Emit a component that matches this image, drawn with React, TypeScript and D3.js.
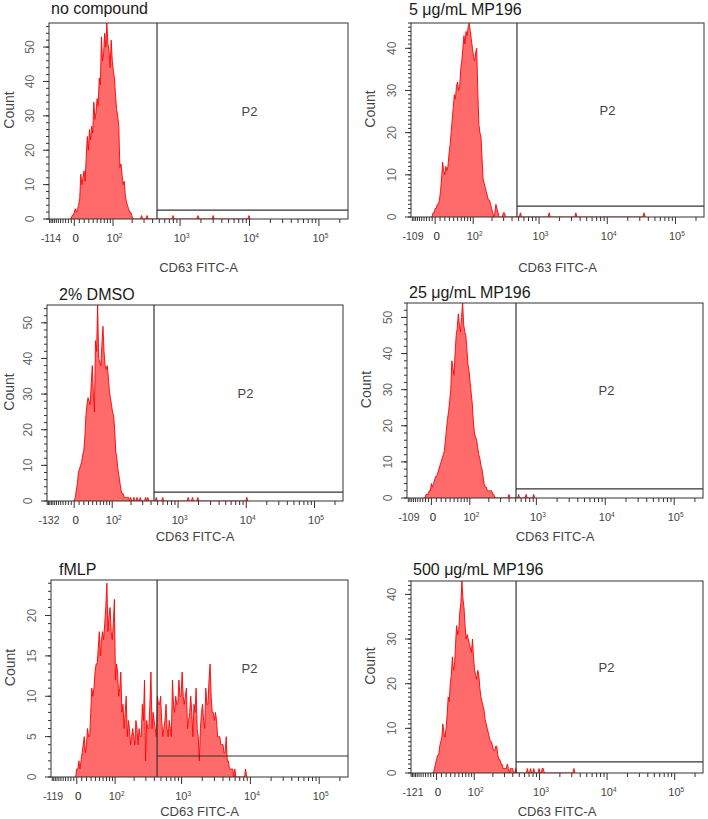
import React from "react";
import * as d3 from "d3";

// ---------------- data ----------------
const panelTitles = [
  "no compound",
  "5 μg/mL MP196",
  "2% DMSO",
  "25 μg/mL MP196",
  "fMLP",
  "500 μg/mL MP196",
];
const xAxisTitle = "CD63 FITC-A";
const yAxisTitle = "Count";
const gateName = "P2";

// left end of each x axis (biexponential display)
const xMinValues = [-114, -109, -132, -109, -119, -121];
const xMaxValue = 262143;
const xDecadeTicks = [100, 1000, 10000, 100000];
const xDecadeExponents = ["2", "3", "4", "5"];
// y axis maxima
const yMaxValues = [57, 46, 55, 54, 24.4, 43];
const yMajorSteps = [10, 10, 10, 10, 5, 10];
const yMinorSteps = [2, 1, 2, 2, 1, 1];
// P2 gate: lower bound on the x axis and height of its lower edge (counts)
const gateValues = [464, 473, 442, 505, 439, 448];
const gateHeights = [2.6, 2.6, 2.5, 2.5, 2.6, 2.5];

// histogram counts, one value per display channel (64 channels per decade)
const noCompoundStart = -3;
const noCompoundCounts = [
  0, 1, 1, 2, 3, 2, 3, 4, 6, 13, 10, 12, 14, 11, 18, 24, 20, 26, 23, 27, 25, 34, 29, 31, 35, 33, 41, 39,
  53, 46, 48, 54, 50, 57, 51, 49, 44, 52, 46, 43, 41, 36, 32, 30, 27, 15, 16, 13, 10, 11, 7, 5, 4, 3, 2, 2, 1, 0,
];
const noCompoundOutliers = [62, 67, 91, 114, 128, 161];

const mp5Start = -3;
const mp5Counts = [
  0, 1, 1, 2, 2, 3, 3, 4, 6, 9, 13, 11, 10, 12, 11, 12, 15, 17, 20, 23, 26, 29, 28, 31, 32, 30, 31, 35,
  37, 40, 43, 41, 44, 43, 45, 46, 44, 42, 40, 38, 37, 39, 40, 30, 22, 20, 19, 14, 9, 8, 7, 6, 5, 4, 4, 3,
  2, 1, 0, 1, 3, 2, 1, 0, 0, 0, 0, 1, 1, 0,
];
const mp5Outliers = [80, 107, 132, 196];

const dmsoStart = 0;
const dmsoCounts = [
  0, 1, 3, 5, 8, 9, 10, 11, 13, 14, 18, 24, 27, 29, 28, 27, 33, 38, 30, 25, 45, 42, 55, 40, 39, 38, 44,
  49, 42, 38, 37, 38, 35, 31, 29, 27, 25, 24, 20, 14, 12, 9, 7, 5, 3, 2, 2, 1, 1, 1, 1, 1, 0,
];
const dmsoOutliers = [53, 56, 59, 62, 67, 69, 77, 83, 107, 111, 116, 162];

const mp25Start = -6;
const mp25Counts = [
  0, 1, 1, 1, 2, 2, 4, 3, 4, 5, 6, 6, 7, 8, 9, 10, 11, 12, 13, 16, 19, 22, 24, 27, 30, 38, 36, 34, 40,
  45, 47, 51, 48, 46, 50, 54, 48, 46, 45, 41, 37, 35, 32, 29, 26, 21, 18, 17, 16, 14, 12, 11, 9, 8, 6, 4,
  3, 3, 2, 2, 2, 2, 2, 1, 1, 0,
];
const mp25Outliers = [72, 81, 88, 95];

const fmlpStart = -1;
const fmlpCounts = [
  0, 1, 1, 2, 1, 2, 3, 4, 5, 3, 4, 6, 5, 5, 8, 11, 10, 11, 13, 14, 14, 16, 18, 15, 17, 18, 17, 19, 21,
  24, 18, 20, 21, 18, 17, 19, 22, 12, 14, 13, 10, 11, 13, 8, 9, 6, 8, 10, 5, 7, 6, 4, 5, 6, 5, 4, 7, 6,
  4, 6, 5, 5, 9, 7, 12, 2, 7, 6, 6, 9, 13, 6, 8, 7, 6, 5, 10, 9, 9, 10, 7, 5, 6, 7, 9, 6, 5, 7, 6, 5,
  12, 9, 8, 10, 9, 9, 12, 10, 10, 13, 10, 9, 10, 11, 6, 7, 8, 10, 8, 5, 9, 8, 11, 6, 5, 2, 6, 8, 9, 7,
  6, 11, 9, 9, 12, 14, 10, 8, 8, 7, 8, 7, 5, 5, 5, 4, 4, 4, 3, 3, 5, 2, 2, 1, 1, 1, 1, 0, 1, 0,
];
const fmlpOutliers = [157];

const mp500Start = -3;
const mp500Counts = [
  0, 1, 2, 3, 4, 4, 6, 7, 8, 11, 9, 8, 10, 13, 17, 16, 20, 22, 26, 23, 24, 29, 33, 31, 32, 36, 38, 43,
  39, 37, 33, 30, 31, 30, 29, 28, 27, 30, 26, 23, 22, 21, 23, 22, 19, 17, 16, 15, 14, 12, 11, 10, 9, 8,
  7, 7, 6, 5, 5, 6, 6, 4, 3, 3, 2, 2, 1, 1, 1, 1, 2, 1, 0, 1, 1, 1, 0, 0, 1, 0,
];
const mp500Outliers = [86, 89, 92, 97, 100, 101, 130];

const histStarts = [noCompoundStart, mp5Start, dmsoStart, mp25Start, fmlpStart, mp500Start];
const histCounts = [noCompoundCounts, mp5Counts, dmsoCounts, mp25Counts, fmlpCounts, mp500Counts];
const histOutliers = [noCompoundOutliers, mp5Outliers, dmsoOutliers, mp25Outliers, fmlpOutliers, mp500Outliers];

// ---------------- layout (not data) ----------------
const layout = [
  { l: 49, r: 348, t: 23, b: 219, tx: 51, ty: 14, axY: 272 },
  { l: 411, r: 704, t: 23, b: 217, tx: 409, ty: 15, axY: 272 },
  { l: 47, r: 343, t: 305, b: 501, tx: 59, ty: 300, axY: 541 },
  { l: 407, r: 703, t: 303, b: 498, tx: 409, ty: 298, axY: 541 },
  { l: 51, r: 348, t: 580, b: 777, tx: 59, ty: 575, axY: 816 },
  { l: 411, r: 703, t: 581, b: 773, tx: 413, ty: 575, axY: 816 },
];

const FONT = "'Liberation Sans', Arial, sans-serif";
const CH_PER_DECADE = 64;
const LIN_C = 60;
const NEG_COMP = 0.6;

// biexponential-like display transform (decades)
function T(v: number): number {
  const a = Math.asinh(Math.abs(v) / LIN_C) / Math.LN10;
  return v >= 0 ? a : -NEG_COMP * a;
}

function Panel({ i }: { i: number }) {
  const L = layout[i];
  const xMin = xMinValues[i];
  const x = d3.scaleLinear().domain([T(xMin), T(xMaxValue)]).range([L.l, L.r]);
  const y = d3.scaleLinear().domain([0, yMaxValues[i]]).range([L.b, L.t]);

  // dense channel array
  const start = histStarts[i];
  const counts = histCounts[i];
  const outl = histOutliers[i];
  const lastCh = Math.max(start + counts.length, ...outl) + 1;
  const map = new Map<number, number>();
  counts.forEach((c, j) => map.set(start + j, c));
  outl.forEach((ch) => map.set(ch, (map.get(ch) || 0) + 1));
  const pts: [number, number][] = [];
  for (let ch = start - 1; ch <= lastCh; ch++) pts.push([ch / CH_PER_DECADE, map.get(ch) || 0]);

  const area = d3
    .area<[number, number]>()
    .x((d) => x(d[0]))
    .y0(y(0))
    .y1((d) => y(d[1]));
  const line = d3
    .line<[number, number]>()
    .x((d) => x(d[0]))
    .y((d) => y(d[1]));

  // x ticks
  const major = [0, ...xDecadeTicks];
  const minor: number[] = [];
  for (let v = -10; v >= xMin; v -= 10) minor.push(v);
  for (let v = 10; v < 100; v += 10) minor.push(v);
  for (const d of xDecadeTicks)
    for (let m = 2; m <= 9; m++) if (m * d <= xMaxValue) minor.push(m * d);

  // y ticks
  const yMajor = d3.range(0, yMaxValues[i] + 0.001, yMajorSteps[i]);
  const yMinor = d3.range(0, yMaxValues[i] + 0.001, yMinorSteps[i]);

  const gx = x(T(gateValues[i]));
  const gy = y(gateHeights[i]);
  const clipId = `clip${i}`;
  const mid = (L.l + L.r) / 2;
  const ymid = (L.t + L.b) / 2;
  const labY = L.b + 23;
  const x0 = x(T(0));

  return (
    <g>
      <defs>
        <clipPath id={clipId}>
          <rect x={L.l} y={L.t} width={L.r - L.l} height={L.b - L.t} />
        </clipPath>
      </defs>
      <text x={L.tx} y={L.ty} fontFamily={FONT} fontSize={16} fill="#1a1a1a">
        {panelTitles[i]}
      </text>
      <g clipPath={`url(#${clipId})`}>
        <path d={area(pts) || ""} fill="#ff6b6b" stroke="none" />
        <path d={line(pts) || ""} fill="none" stroke="#ff0000" strokeWidth={0.9} />
      </g>
      {/* frame */}
      <rect x={L.l} y={L.t} width={L.r - L.l} height={L.b - L.t} fill="none" stroke="#333" strokeWidth={1} />
      {/* gate */}
      <line x1={gx} x2={gx} y1={L.t} y2={L.b} stroke="#333" strokeWidth={1.2} />
      <line x1={gx} x2={L.r} y1={gy} y2={gy} stroke="#333" strokeWidth={1.2} />
      <text
        x={(gx + L.r) / 2 - 3}
        y={L.t + 0.45 * (L.b - L.t)}
        textAnchor="middle"
        dominantBaseline="central"
        fontFamily={FONT}
        fontSize={13}
        fill="#444"
      >
        {gateName}
      </text>
      {/* x ticks */}
      {minor.map((v) => (
        <line key={"mn" + v} x1={x(T(v))} x2={x(T(v))} y1={L.b} y2={L.b + 4} stroke="#333" strokeWidth={1} />
      ))}
      {major.map((v) => (
        <line key={"mj" + v} x1={x(T(v))} x2={x(T(v))} y1={L.b} y2={L.b + 7} stroke="#333" strokeWidth={1} />
      ))}
      <text x={L.l + 2} y={labY} textAnchor="middle" fontFamily={FONT} fontSize={10.5} fill="#444">
        {String(xMin)}
      </text>
      <text x={x0 + 1.5} y={labY} textAnchor="middle" fontFamily={FONT} fontSize={11.5} fill="#222">
        {"0"}
      </text>
      {xDecadeTicks.map((v, j) => (
        <text key={"xl" + v} x={x(T(v)) + 1.5} y={labY} textAnchor="middle" fontFamily={FONT} fontSize={11} fill="#444">
          <tspan>10</tspan>
          <tspan dy={-4} fontSize={6.5}>
            {xDecadeExponents[j]}
          </tspan>
        </text>
      ))}
      <text x={mid} y={L.axY} textAnchor="middle" fontFamily={FONT} fontSize={13} fill="#444">
        {xAxisTitle}
      </text>
      {/* y ticks */}
      {yMinor.map((v) => (
        <line key={"ymn" + v} x1={L.l - 3} x2={L.l} y1={y(v)} y2={y(v)} stroke="#333" strokeWidth={1} />
      ))}
      {yMajor.map((v) => (
        <g key={"ymj" + v}>
          <line x1={L.l - 6} x2={L.l} y1={y(v)} y2={y(v)} stroke="#333" strokeWidth={1} />
          <text
            transform={`translate(${L.l - 19},${y(v)}) rotate(-90)`}
            textAnchor="middle"
            dominantBaseline="central"
            fontFamily={FONT}
            fontSize={12}
            fill="#666"
          >
            {v}
          </text>
        </g>
      ))}
      <text
        transform={`translate(${Math.max(L.l - 41, 9)},${ymid - 11}) rotate(-90)`}
        textAnchor="middle"
        dominantBaseline="central"
        fontFamily={FONT}
        fontSize={14}
        fill="#444"
      >
        {yAxisTitle}
      </text>
    </g>
  );
}

export default function App() {
  return (
    <svg
      width={708}
      height={819}
      viewBox="0 0 708 819"
      style={{ position: "absolute", left: 0, top: 0, background: "#fff", display: "block" }}
    >
      <rect width={708} height={819} fill="#fff" />
      {panelTitles.map((_, i) => (
        <Panel key={i} i={i} />
      ))}
    </svg>
  );
}
